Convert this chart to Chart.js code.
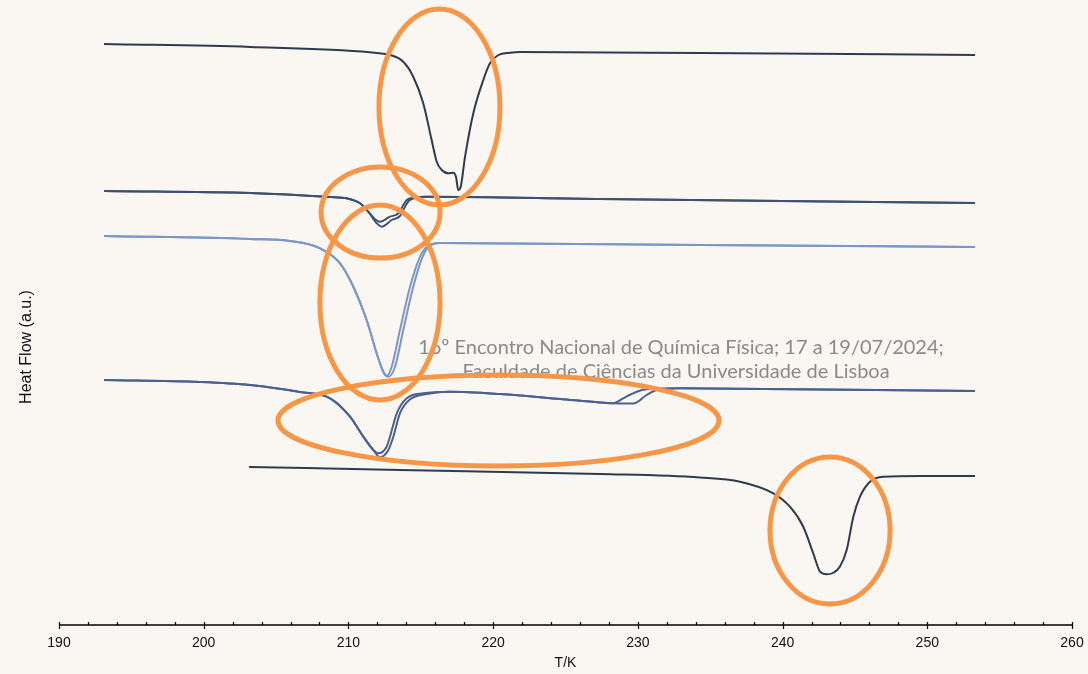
<!DOCTYPE html>
<html>
<head>
<meta charset="utf-8">
<script src="https://cdn.jsdelivr.net/npm/chart.js@4.4.1/dist/chart.umd.min.js"></script>
<style>
  html, body { margin: 0; padding: 0; background: #faf6f2; }
  #wrap { width: 1088px; height: 674px; }
</style>
</head>
<body>
<div id="wrap"><canvas id="dsc" width="1088" height="674"></canvas></div>
<script>
// temperature (K) / heat flow (a.u.)
const t1 = [193.11, 203.20, 211.49, 212.87, 213.79, 214.48, 215.17, 215.75, 216.10, 216.45, 216.90, 217.25, 217.43, 217.59, 217.76, 218.06, 218.63, 219.32, 219.78, 220.36, 221.17, 221.86, 234.30, 253.30];
const hf1 = [58.1, 57.8, 57.27, 57.0, 56.33, 54.83, 52.17, 48.5, 46.33, 45.5, 45.17, 45.23, 44.83, 43.5, 43.83, 46.83, 51.17, 54.5, 56.17, 57.0, 57.23, 57.3, 57.2, 57.0];

const t2a = [193.11, 203.20, 208.73, 209.88, 210.80, 211.37, 211.84, 212.18, 212.87, 213.45, 213.79, 214.03, 214.48, 215.41, 227.38, 253.30];
const hf2a = [43.4, 43.2, 42.8, 42.67, 42.17, 41.33, 40.57, 40.33, 40.83, 41.17, 42.0, 42.5, 42.73, 42.83, 42.6, 42.2];
const t2b = [193.11, 203.20, 208.73, 209.88, 210.80, 211.37, 211.96, 212.30, 212.99, 213.56, 213.91, 214.18, 214.60, 215.41, 227.38, 253.30];
const hf2b = [43.4, 43.2, 42.8, 42.67, 42.17, 41.33, 40.17, 39.83, 40.5, 40.9, 41.83, 42.43, 42.7, 42.83, 42.6, 42.2];

const t3a = [193.11, 203.20, 205.96, 208.04, 209.42, 210.34, 211.26, 211.95, 212.41, 212.64, 212.99, 213.56, 214.26, 214.95, 215.41, 216.33, 234.29, 253.30];
const hf3a = [38.9, 38.6, 38.4, 37.67, 36.17, 33.83, 30.5, 27.17, 25.33, 24.9, 25.83, 29.5, 33.83, 36.83, 37.83, 38.2, 38.0, 37.8];
const t3b = [193.11, 203.20, 205.96, 208.04, 209.42, 210.34, 211.26, 211.95, 212.41, 212.76, 213.22, 213.79, 214.48, 215.13, 215.52, 216.33, 234.29, 253.30];
const hf3b = [38.9, 38.6, 38.4, 37.67, 36.17, 33.83, 30.5, 27.17, 25.33, 24.83, 25.83, 29.5, 33.83, 36.83, 37.77, 38.2, 38.0, 37.8];

const t4a = [193.11, 199.74, 203.20, 206.65, 208.73, 210.11, 211.03, 211.72, 212.06, 212.64, 212.87, 213.34, 214.03, 215.17, 217.02, 220.47, 224.62, 227.38, 228.28, 228.99, 229.92, 230.61, 232.91, 253.30];
const hf4a = [24.5, 24.3, 24.0, 23.3, 22.67, 20.83, 18.83, 17.5, 17.17, 17.83, 18.83, 21.17, 22.67, 23.17, 23.33, 23.1, 22.6, 22.25, 22.17, 22.67, 23.33, 23.57, 23.67, 23.4];
const t4b = [193.11, 199.74, 203.20, 206.65, 208.73, 210.11, 211.03, 211.72, 212.18, 212.76, 213.10, 213.56, 214.26, 215.41, 217.02, 220.47, 224.62, 227.38, 228.28, 229.68, 230.61, 231.30, 232.91, 253.30];
const hf4b = [24.5, 24.3, 24.0, 23.3, 22.67, 20.83, 18.83, 17.5, 16.77, 17.5, 18.83, 21.17, 22.57, 23.1, 23.33, 23.1, 22.6, 22.25, 22.17, 22.15, 23.0, 23.5, 23.67, 23.4];

const t5 = [203.13, 213.56, 227.38, 234.29, 237.06, 239.36, 240.51, 241.43, 242.12, 242.59, 243.05, 243.48, 243.96, 244.43, 244.89, 245.35, 246.04, 246.96, 249.50, 253.30];
const hf5 = [15.8, 15.5, 15.1, 14.75, 14.33, 13.17, 11.83, 9.83, 7.17, 5.33, 5.07, 5.2, 5.83, 7.5, 10.83, 12.83, 14.33, 14.83, 14.9, 14.9];

// highlighted transitions: centre T, centre HF, half width (K), half height (a.u.)
const ringT = [216.29, 212.22, 212.18, 220.37, 243.28];
const ringHF = [51.8, 41.25, 32.25, 20.45, 9.45];
const ringRT = [4.18, 4.11, 4.15, 15.24, 4.15];
const ringRHF = [9.8, 4.55, 9.75, 4.55, 7.35];

const xTicks = [190, 200, 210, 220, 230, 240, 250, 260];
const noteLines = ['16º Encontro Nacional de Química Física; 17 a 19/07/2024;', 'Faculdade de Ciências da Universidade de Lisboa'];

const zip = (ts, hs) => ts.map((t, i) => ({ x: t, y: hs[i] }));

function curve(ts, hs, color) {
    return {
        data: zip(ts, hs),
        borderColor: color,
        borderWidth: 2,
        pointRadius: 0,
        fill: false,
        cubicInterpolationMode: 'monotone'
    };
}

const decor = {
    id: 'decor',
    beforeDraw(chart) {
        const c = chart.ctx;
        c.save();
        c.fillStyle = '#faf6f2';
        c.fillRect(0, 0, chart.width, chart.height);
        c.restore();
    },
    afterDatasetsDraw(chart) {
        const c = chart.ctx;
        const x = chart.scales.x, y = chart.scales.y;
        c.save();
        // conference note
        c.fillStyle = '#8a8a8a';
        c.font = '20px Lato';
        c.textAlign = 'center';
        c.textBaseline = 'middle';
        c.fillText(noteLines[0], x.getPixelForValue(232.98), y.getPixelForValue(27.7));
        c.fillText(noteLines[1], x.getPixelForValue(232.64), y.getPixelForValue(25.3));
        // orange rings
        c.strokeStyle = '#f79646';
        c.lineWidth = 5;
        ringT.forEach((t, i) => {
            const cx = x.getPixelForValue(t), cy = y.getPixelForValue(ringHF[i]);
            const rx = x.getPixelForValue(t + ringRT[i]) - cx;
            const ry = cy - y.getPixelForValue(ringHF[i] + ringRHF[i]);
            c.beginPath();
            c.ellipse(cx, cy, rx, ry, 0, 0, Math.PI * 2);
            c.stroke();
        });
        c.restore();
    },
    afterDraw(chart) {
        const c = chart.ctx;
        const x = chart.scales.x;
        const base = chart.chartArea.bottom;
        c.save();
        c.strokeStyle = '#000';
        c.lineWidth = 1.5;
        c.beginPath();
        c.moveTo(x.getPixelForValue(190), base);
        c.lineTo(x.getPixelForValue(260), base);
        c.stroke();
        c.lineWidth = 1.2;
        for (let t = 190; t <= 260; t += 2) {
            const px = Math.round(x.getPixelForValue(t)) + 0.5;
            c.beginPath();
            c.moveTo(px, base - 3);
            c.lineTo(px, t % 10 === 0 ? base + 4 : base);
            c.stroke();
        }
        // y axis title
        c.fillStyle = '#111';
        c.font = '16px "Liberation Sans"';
        c.textAlign = 'center';
        c.textBaseline = 'middle';
        c.translate(27, 347);
        c.rotate(-Math.PI / 2);
        c.fillText('Heat Flow (a.u.)', 0, 0);
        c.restore();
    }
};

new Chart(document.getElementById('dsc'), {
    type: 'line',
    data: {
        datasets: [
            curve(t1, hf1, '#2e3b4f'),
            curve(t2a, hf2a, '#3e5170'),
            curve(t2b, hf2b, '#3e5170'),
            curve(t3a, hf3a, '#7b97c5'),
            curve(t3b, hf3b, '#7b97c5'),
            curve(t4a, hf4a, '#4a6190'),
            curve(t4b, hf4b, '#4a6190'),
            curve(t5, hf5, '#2e3b4f')
        ]
    },
    options: {
        responsive: false,
        animation: false,
        layout: { padding: { left: 59, right: 16, top: 0, bottom: 0 } },
        plugins: { legend: { display: false }, tooltip: { enabled: false } },
        scales: {
            x: {
                type: 'linear',
                min: 190,
                max: 260,
                afterBuildTicks: (s) => { s.ticks = xTicks.map(v => ({ value: v })); },
                afterFit: (s) => { s.height = 49; },
                ticks: {
                    padding: 2,
                    maxRotation: 0,
                    color: '#111',
                    font: { family: 'Liberation Sans', size: 14 }
                },
                grid: { display: false },
                border: { display: false },
                title: {
                    display: true,
                    text: 'T/K',
                    color: '#111',
                    font: { family: 'Liberation Sans', size: 14 },
                    padding: { top: 0, bottom: 2 }
                }
            },
            y: { min: 0, max: 62.5, display: false }
        }
    },
    plugins: [decor]
});
</script>
</body>
</html>
